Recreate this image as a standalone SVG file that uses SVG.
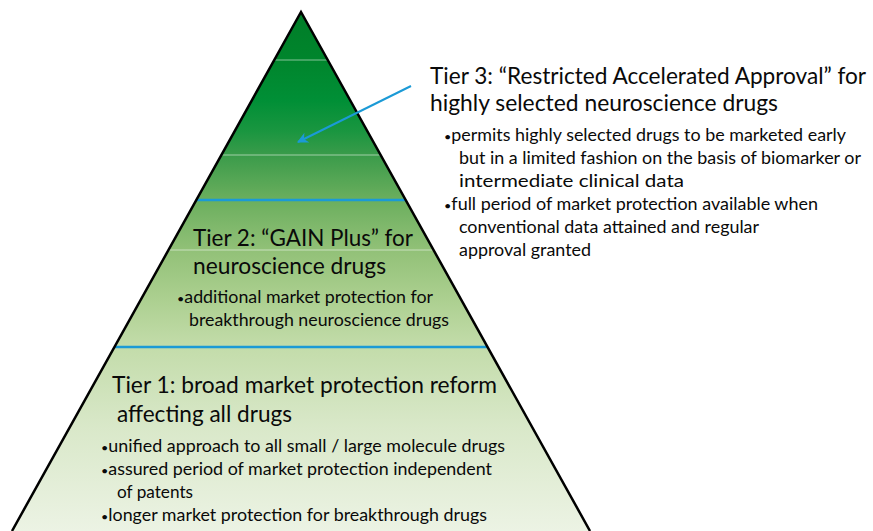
<svg xmlns="http://www.w3.org/2000/svg" width="873" height="531" viewBox="0 0 873 531">
  <style>
    text { font-family: Lato, "Open Sans", "Liberation Sans", sans-serif; fill: #0a0a0a; }
    .title { font-size: 24px; }
    .bullet { font-size: 17px; }
    .dot { font-size: 12px; }
    .band { stroke: #ffffff; stroke-opacity: 0.35; stroke-width: 1.5; }
    .divider { stroke: #1b9ad6; stroke-width: 2.5; }
  </style>
  <defs>
    <linearGradient id="pyramidFill" gradientUnits="userSpaceOnUse" x1="0" y1="12" x2="0" y2="531">
      <stop offset="0" stop-color="#007d28"/>
      <stop offset="0.09" stop-color="#00852c"/>
      <stop offset="0.17" stop-color="#008f36"/>
      <stop offset="0.23" stop-color="#1a9640"/>
      <stop offset="0.275" stop-color="#3a9b4a"/>
      <stop offset="0.36" stop-color="#6aae5d"/>
      <stop offset="0.46" stop-color="#92c178"/>
      <stop offset="0.55" stop-color="#abcf8f"/>
      <stop offset="0.645" stop-color="#c3dcaa"/>
      <stop offset="0.8" stop-color="#d9e8c9"/>
      <stop offset="1" stop-color="#ecf3e4"/>
    </linearGradient>
    <marker id="arrowHead" viewBox="0 0 10 10" refX="9" refY="5" markerWidth="5.5" markerHeight="5.5" orient="auto">
      <path d="M0,0 L10,5 L0,10 L3,5 Z" fill="#1b9ad6"/>
    </marker>
  </defs>

  <!-- pyramid body -->
  <g id="pyramid">
    <polygon points="301,12 590,531 12,531" fill="url(#pyramidFill)"/>
    <line class="band" x1="274.5" y1="60" x2="327.5" y2="60"/>
    <line class="band" x1="221.5" y1="155" x2="380.5" y2="155"/>
    <line class="band" x1="168.5" y1="250" x2="433.5" y2="250"/>
    <line class="divider" x1="196.5" y1="200" x2="405.5" y2="200"/>
    <line class="divider" x1="114.5" y1="347" x2="487.5" y2="347"/>
    <polyline points="12,531 301,12 590,531" fill="none" stroke="#000000" stroke-width="2.5" stroke-linejoin="miter"/>
  </g>

  <!-- tier 3 callout -->
  <g id="tier3">
    <text class="title" x="430" y="84" font-size="23" style="font-size:23px" textLength="436" lengthAdjust="spacingAndGlyphs">Tier 3: “Restricted Accelerated Approval” for</text>
    <text class="title" x="430" y="111" textLength="348" lengthAdjust="spacingAndGlyphs">highly selected neuroscience drugs</text>
    <text class="bullet" x="444" y="141" textLength="402" lengthAdjust="spacingAndGlyphs"><tspan class="dot">•</tspan>permits highly selected drugs to be marketed early</text>
    <text class="bullet" x="459" y="164" textLength="402" lengthAdjust="spacingAndGlyphs">but in a limited fashion on the basis of biomarker or</text>
    <text class="bullet" x="459" y="187" textLength="225" lengthAdjust="spacingAndGlyphs">intermediate clinical data</text>
    <text class="bullet" x="444" y="210" textLength="374" lengthAdjust="spacingAndGlyphs"><tspan class="dot">•</tspan>full period of market protection available when</text>
    <text class="bullet" x="459" y="233" textLength="300" lengthAdjust="spacingAndGlyphs">conventional data attained and regular</text>
    <text class="bullet" x="459" y="256" textLength="132" lengthAdjust="spacingAndGlyphs">approval granted</text>
  </g>

  <!-- tier 2 -->
  <g id="tier2">
    <text class="title" x="193" y="246" textLength="220" lengthAdjust="spacingAndGlyphs">Tier 2: “GAIN Plus” for</text>
    <text class="title" x="193" y="274" textLength="193" lengthAdjust="spacingAndGlyphs">neuroscience drugs</text>
    <text class="bullet" x="177" y="303" textLength="256" lengthAdjust="spacingAndGlyphs"><tspan class="dot">•</tspan>additional market protection for</text>
    <text class="bullet" x="189" y="326" textLength="260" lengthAdjust="spacingAndGlyphs">breakthrough neuroscience drugs</text>
  </g>

  <!-- tier 1 -->
  <g id="tier1">
    <text class="title" x="112" y="393" textLength="385" lengthAdjust="spacingAndGlyphs">Tier 1: broad market protection reform</text>
    <text class="title" x="117" y="422" textLength="175" lengthAdjust="spacingAndGlyphs">affecting all drugs</text>
    <text class="bullet" x="101" y="452" textLength="404" lengthAdjust="spacingAndGlyphs"><tspan class="dot">•</tspan>unified approach to all small / large molecule drugs</text>
    <text class="bullet" x="101" y="475" textLength="391" lengthAdjust="spacingAndGlyphs"><tspan class="dot">•</tspan>assured period of market protection independent</text>
    <text class="bullet" x="117" y="498" textLength="76" lengthAdjust="spacingAndGlyphs">of patents</text>
    <text class="bullet" x="101" y="521" textLength="386" lengthAdjust="spacingAndGlyphs"><tspan class="dot">•</tspan>longer market protection for breakthrough drugs</text>
  </g>

  <!-- connector from the tier 3 label into the top section -->
  <g id="connectors">
    <line x1="411" y1="86" x2="298" y2="142" stroke="#1b9ad6" stroke-width="2" marker-end="url(#arrowHead)"/>
  </g>
</svg>
